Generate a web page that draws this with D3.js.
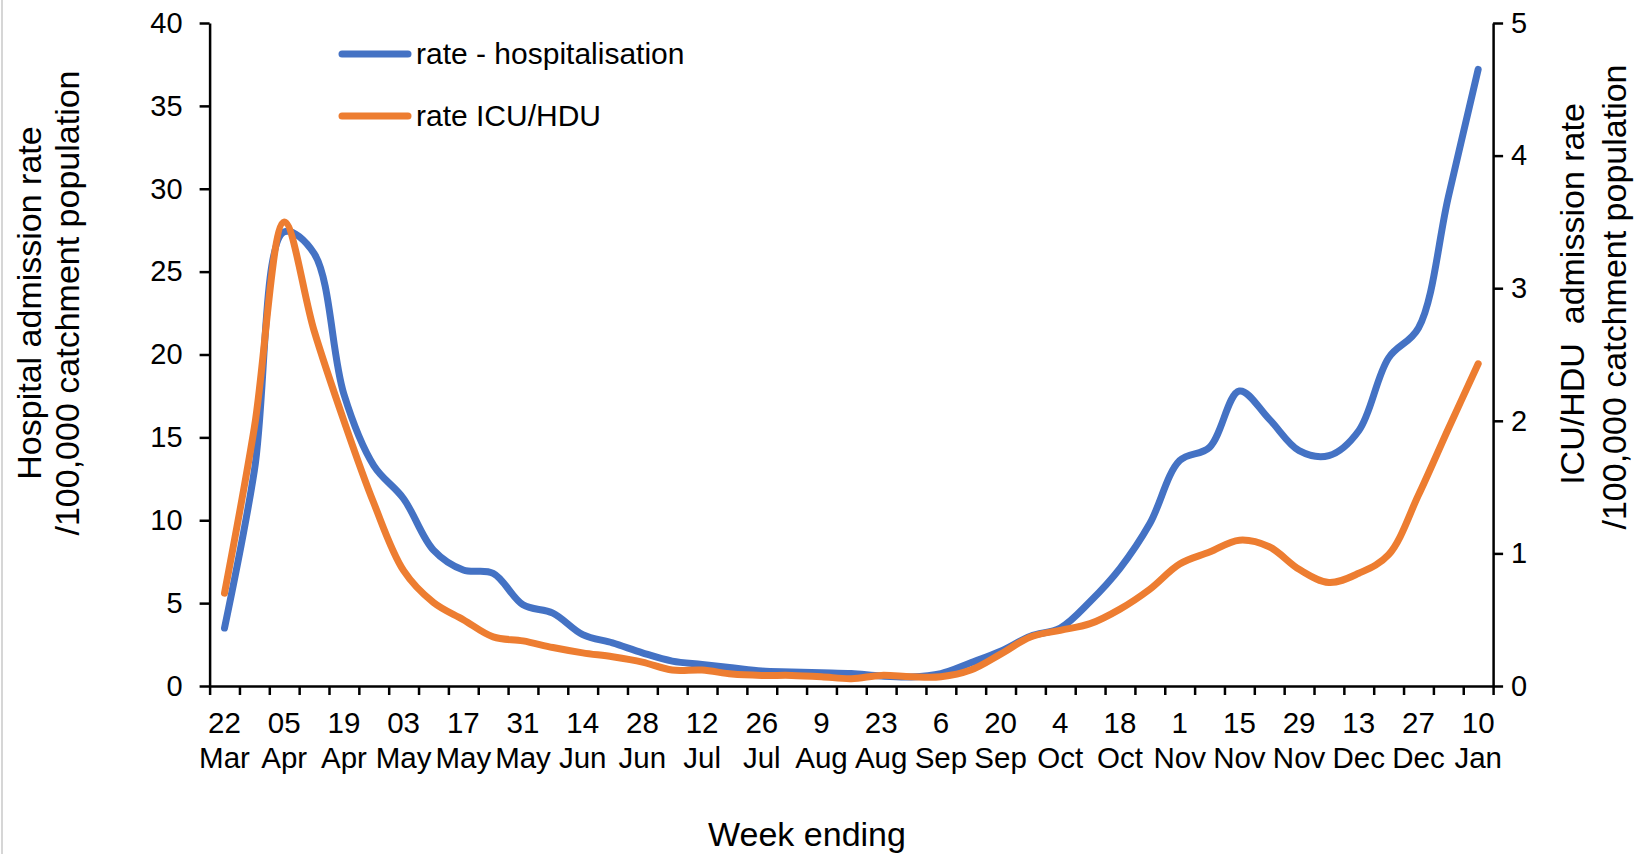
<!DOCTYPE html>
<html>
<head>
<meta charset="utf-8">
<script src="https://cdn.jsdelivr.net/npm/d3@7"></script>
<style>
  html, body { margin: 0; padding: 0; background: #ffffff; }
  svg { display: block; font-family: "Liberation Sans", Arial, sans-serif; }
  .axis path, .axis line { stroke: #000; stroke-width: 2.5; }
  .axis text { fill: #000; font-size: 29px; }
</style>
</head>
<body>
<svg id="chart" width="1643" height="854"></svg>
<script>
// Week-ending dates (one category per week)
const weeks = [
  "22 Mar","29 Mar","05 Apr","12 Apr","19 Apr","26 Apr","03 May","10 May","17 May","24 May",
  "31 May","07 Jun","14 Jun","21 Jun","28 Jun","05 Jul","12 Jul","19 Jul","26 Jul","2 Aug",
  "9 Aug","16 Aug","23 Aug","30 Aug","6 Sep","13 Sep","20 Sep","27 Sep","4 Oct","11 Oct",
  "18 Oct","25 Oct","1 Nov","8 Nov","15 Nov","22 Nov","29 Nov","6 Dec","13 Dec","20 Dec",
  "27 Dec","3 Jan","10 Jan"
];

// Hospital admission rate per 100,000 (left axis)
const hospRate = [
  3.5, 13.0, 27.4, 26.1, 17.6, 13.3, 11.3, 8.2, 7.0, 6.8,
  4.9, 4.4, 3.1, 2.6, 2.0, 1.5, 1.3, 1.1, 0.9, 0.85,
  0.8, 0.75, 0.6, 0.55, 0.75, 1.4, 2.1, 3.0, 3.5, 5.1,
  7.1, 9.8, 13.6, 14.4, 17.8, 16.1, 14.2, 13.9, 15.4, 19.8,
  21.6, 29.5, 37.2
];

// ICU/HDU admission rate per 100,000 (right axis)
const icuRate = [
  0.70, 1.95, 3.50, 2.68, 2.00, 1.38, 0.87, 0.63, 0.50, 0.37,
  0.34, 0.29, 0.25, 0.22, 0.18, 0.12, 0.12, 0.09, 0.08, 0.08,
  0.07, 0.055, 0.08, 0.07, 0.07, 0.12, 0.24, 0.37, 0.42, 0.47,
  0.58, 0.73, 0.92, 1.01, 1.10, 1.05, 0.88, 0.78, 0.85, 0.99,
  1.44, 1.94, 2.43
];

const leftTicks = [0, 5, 10, 15, 20, 25, 30, 35, 40];
const rightTicks = [0, 1, 2, 3, 4, 5];

const seriesNames = ["rate - hospitalisation", "rate ICU/HDU"];
const seriesColors = ["#4472C4", "#ED7D31"];

const svg = d3.select("#chart");

// thin grey frame edge on the left
svg.append("rect").attr("x", 1).attr("y", 0).attr("width", 2).attr("height", 854).attr("fill", "#d6d6d6");

const plot = { left: 209.6, right: 1493.1, top: 23, bottom: 686 };

const x = d3.scaleBand().domain(weeks).range([plot.left, plot.right]).padding(0);
const xEdges = d3.scaleLinear().domain([0, weeks.length]).range([plot.left, plot.right]);
const yL = d3.scaleLinear().domain([0, 40]).range([plot.bottom, plot.top]);
const yR = d3.scaleLinear().domain([0, 5]).range([plot.bottom, plot.top]);

// x axis: tick marks between categories
svg.append("g").attr("class", "axis")
  .attr("transform", `translate(0,${plot.bottom})`)
  .call(d3.axisBottom(xEdges).tickValues(d3.range(weeks.length + 1)).tickSize(9).tickSizeOuter(0).tickFormat(""));

// x labels on every second week, day over month
const labelWeeks = weeks.filter((d, i) => i % 2 === 0);
const xLab = svg.append("g").attr("font-size", "29.5px").attr("fill", "#000").attr("text-anchor", "middle");
labelWeeks.forEach(w => {
  const parts = w.split(" ");
  const cx = x(w) + x.bandwidth() / 2;
  xLab.append("text").attr("x", cx).attr("y", 733).text(parts[0]);
  xLab.append("text").attr("x", cx).attr("y", 768).text(parts[1]);
});

// left axis
svg.append("g").attr("class", "axis")
  .attr("transform", `translate(${plot.left},0)`)
  .call(d3.axisLeft(yL).tickValues(leftTicks).tickSize(10).tickPadding(17).tickSizeOuter(0));

// right axis
svg.append("g").attr("class", "axis")
  .attr("transform", `translate(${plot.right},0)`)
  .call(d3.axisRight(yR).tickValues(rightTicks).tickFormat(d3.format("d")).tickSize(10).tickPadding(8).tickSizeOuter(0));

// smoothed series lines
const cx = (d, i) => x(weeks[i]) + x.bandwidth() / 2;
const lineL = d3.line().x(cx).y(d => yL(d)).curve(d3.curveCatmullRom.alpha(0.5));
const lineR = d3.line().x(cx).y(d => yR(d)).curve(d3.curveCatmullRom.alpha(0.5));

svg.append("path").datum(hospRate).attr("d", lineL)
  .attr("fill", "none").attr("stroke", seriesColors[0]).attr("stroke-width", 7)
  .attr("stroke-linecap", "round").attr("stroke-linejoin", "round");
svg.append("path").datum(icuRate).attr("d", lineR)
  .attr("fill", "none").attr("stroke", seriesColors[1]).attr("stroke-width", 7)
  .attr("stroke-linecap", "round").attr("stroke-linejoin", "round");

// legend
const legend = svg.append("g");
seriesNames.forEach((name, i) => {
  const ly = 54 + i * 62;
  legend.append("line").attr("x1", 342).attr("x2", 408).attr("y1", ly).attr("y2", ly)
    .attr("stroke", seriesColors[i]).attr("stroke-width", 7).attr("stroke-linecap", "round");
  legend.append("text").attr("x", 416).attr("y", ly + 10).attr("font-size", "30px").attr("fill", "#000").text(name);
});

// axis titles
const titleSize = "34px";
function vTitle(cxPos, cyPos, txt) {
  svg.append("text")
    .attr("transform", `translate(${cxPos},${cyPos}) rotate(-90)`)
    .attr("text-anchor", "middle").attr("dominant-baseline", "central")
    .attr("font-size", titleSize).attr("fill", "#000").text(txt);
}
vTitle(29, 303, "Hospital admission rate");
vTitle(67, 303, "/100,000 catchment population");
vTitle(1572, 294, "ICU/HDU\u00A0 admission rate");
vTitle(1614, 297, "/100,000 catchment population");

svg.append("text").attr("x", 807).attr("y", 846).attr("text-anchor", "middle")
  .attr("font-size", titleSize).attr("fill", "#000").text("Week ending");
</script>
</body>
</html>
